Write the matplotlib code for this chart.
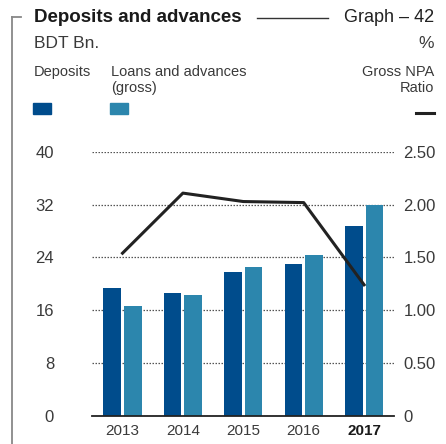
import matplotlib.pyplot as plt
import numpy as np

plt.rcParams['font.family'] = ['Liberation Sans', 'DejaVu Sans']

years = ['2013', '2014', '2015', '2016', '2017']
deposits = [19.4, 18.6, 21.8, 23.0, 28.8]
loans = [16.6, 18.3, 22.5, 24.4, 32.0]
npa_ratio = [1.54, 2.11, 2.03, 2.02, 1.24]

dark_blue = '#004c8c'
light_blue = '#2c86ad'
text_col = '#3a3a3a'

W, H = 446, 444
fig = plt.figure(figsize=(W / 100, H / 100), dpi=100)


def px(x, y):
    return x / W, 1 - y / H


ax = fig.add_axes([92.3 / W, 1 - 415.5 / H, 302 / W, 263.5 / H])
x = np.arange(len(years))
ax.bar(x - 0.17, deposits, width=0.29, color=dark_blue, zorder=2)
ax.bar(x + 0.17, loans, width=0.29, color=light_blue, zorder=2)
ax.set_xlim(-0.5, 4.5)
ax.set_ylim(0, 40)
ax.set_yticks([0, 8, 16, 24, 32, 40])
ax.set_axisbelow(True)
ax.yaxis.grid(True, linestyle=(0, (1.2, 1.2)), color='#555555', linewidth=0.9)
for s in ['left', 'right', 'top']:
    ax.spines[s].set_visible(False)
ax.spines['bottom'].set_color('#222222')
ax.spines['bottom'].set_linewidth(1.3)
# pads are in points (100 dpi -> 0.72 pt per pixel)
ax.tick_params(axis='y', length=0, pad=27.5, labelsize=12, labelcolor=text_col)
ax.tick_params(axis='x', length=0, pad=6, labelsize=11, labelcolor=text_col)
ax.set_xticks(x)
ax.set_xticklabels(years)
ax.get_xticklabels()[-1].set_fontweight('bold')
ax.get_xticklabels()[-1].set_color('#1a1a1a')

# gross NPA ratio on the right-hand scale
ax2 = ax.twinx()
ax2.plot(x, npa_ratio, color='#222222', linewidth=2.2, zorder=3)
ax2.set_ylim(0, 2.5)
ax2.set_yticks([0, 0.5, 1.0, 1.5, 2.0, 2.5])
ax2.set_yticklabels(['0', '0.50', '1.00', '1.50', '2.00', '2.50'])
for s in ax2.spines.values():
    s.set_visible(False)
ax2.tick_params(axis='y', length=0, pad=6.5, labelsize=12, labelcolor=text_col)

# header: bracket, title and legend
fig.add_artist(plt.Line2D([12 / W, 12 / W], [1 - 17 / H, 0], color='#888888', lw=1.3))
fig.add_artist(plt.Line2D([12 / W, 21 / W], [1 - 17 / H, 1 - 17 / H], color='#888888', lw=1.3))
fig.add_artist(plt.Line2D([257 / W, 328 / W], [1 - 18 / H, 1 - 18 / H], color='#333333', lw=1.0))

fig.text(*px(34, 18), 'Deposits and advances', fontsize=13.5, fontweight='bold',
         color='#1a1a1a', va='center', ha='left')
fig.text(*px(434, 18), 'Graph – 42', fontsize=13, color='#222222', va='center', ha='right')
fig.text(*px(34, 44), 'BDT Bn.', fontsize=12.5, color=text_col, va='center', ha='left')
fig.text(*px(434, 44), '%', fontsize=12.5, color=text_col, va='center', ha='right')
fig.text(*px(34, 72), 'Deposits', fontsize=10.5, color=text_col, va='center', ha='left')
fig.text(*px(111, 80), 'Loans and advances\n(gross)', fontsize=10.5, color=text_col,
         va='center', ha='left', linespacing=1.1)
fig.text(*px(434, 80), 'Gross NPA\nRatio', fontsize=10.5, color=text_col,
         va='center', ha='right', multialignment='right', linespacing=1.1)

fig.add_artist(plt.Rectangle(px(33, 114), 18 / W, 11 / H, color=dark_blue))
fig.add_artist(plt.Rectangle(px(110, 114), 18 / W, 11 / H, color=light_blue))
fig.add_artist(plt.Line2D([416 / W, 434 / W], [1 - 113 / H, 1 - 113 / H], color='#222222', lw=2.2))

fig.savefig('out.png', dpi=100)
